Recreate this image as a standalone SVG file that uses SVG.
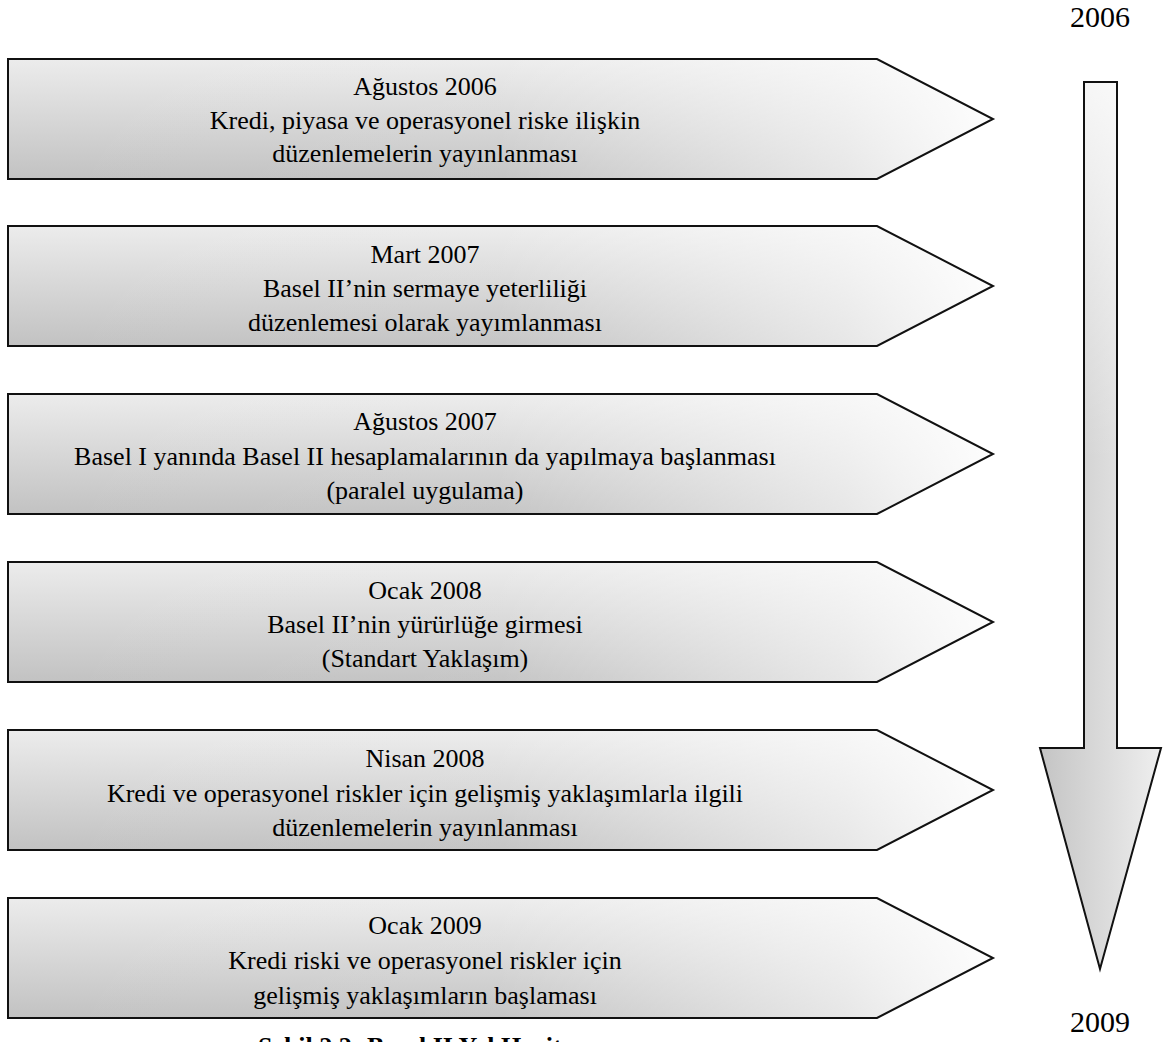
<svg xmlns="http://www.w3.org/2000/svg" width="1166" height="1042" viewBox="0 0 1166 1042">
<style>
.t{font-family:"Liberation Serif","Times New Roman",serif;font-size:26px;fill:#000;text-anchor:middle}
.yr{font-family:"Liberation Serif","Times New Roman",serif;font-size:30px;fill:#000;text-anchor:middle}
.cap{font-family:"Liberation Serif","Times New Roman",serif;font-size:26px;font-weight:bold;fill:#000;text-anchor:middle}
.edge{fill:none;stroke:#111;stroke-width:2;stroke-linejoin:miter}
.base{fill:url(#gv)}
.shine{fill:url(#gh)}
</style>
<defs>
<linearGradient id="gv" x1="0" y1="0" x2="0" y2="1">
<stop offset="0" stop-color="#ececec"/>
<stop offset="1" stop-color="#c2c2c2"/>
</linearGradient>
<linearGradient id="gh" x1="0" y1="0" x2="1" y2="0">
<stop offset="0" stop-color="#fff" stop-opacity="0"/>
<stop offset="0.5" stop-color="#fff" stop-opacity="0.05"/>
<stop offset="0.85" stop-color="#fff" stop-opacity="0.6"/>
<stop offset="1" stop-color="#fff" stop-opacity="0.95"/>
</linearGradient>
<linearGradient id="av" gradientUnits="userSpaceOnUse" x1="1040" y1="0" x2="1161" y2="0">
<stop offset="0" stop-color="#c4c4c4"/>
<stop offset="1" stop-color="#efefef"/>
</linearGradient>
<linearGradient id="avs" gradientUnits="userSpaceOnUse" x1="0" y1="82" x2="0" y2="460">
<stop offset="0" stop-color="#fff" stop-opacity="0.8"/>
<stop offset="1" stop-color="#fff" stop-opacity="0"/>
</linearGradient>
<path id="pent" d="M0,0 L869,0 L985,60 L869,120 L0,120 Z"/>
</defs>

<g id="timeline-arrow">
<path d="M1084,82 L1117,82 L1117,748 L1161,748 L1100,969 L1040,748 L1084,748 Z" fill="url(#av)"/>
<path d="M1084,82 L1117,82 L1117,748 L1161,748 L1100,969 L1040,748 L1084,748 Z" fill="url(#avs)"/>
<path class="edge" d="M1084,82 L1117,82 L1117,748 L1161,748 L1100,969 L1040,748 L1084,748 Z"/>
</g>

<g id="label-2006"><text class="yr" x="1100" y="27">2006</text></g>
<g id="label-2009"><text class="yr" x="1100" y="1032">2009</text></g>

<g id="step1" transform="translate(8,59)">
<use href="#pent" class="base"/><use href="#pent" class="shine"/><use href="#pent" class="edge"/>
<text class="t" x="417" y="36">Ağustos 2006</text>
<text class="t" x="417" y="70">Kredi, piyasa ve operasyonel riske ilişkin</text>
<text class="t" x="417" y="103">düzenlemelerin yayınlanması</text>
</g>

<g id="step2" transform="translate(8,226)">
<use href="#pent" class="base"/><use href="#pent" class="shine"/><use href="#pent" class="edge"/>
<text class="t" x="417" y="37">Mart 2007</text>
<text class="t" x="417" y="71">Basel II’nin sermaye yeterliliği</text>
<text class="t" x="417" y="105">düzenlemesi olarak yayımlanması</text>
</g>

<g id="step3" transform="translate(8,394)">
<use href="#pent" class="base"/><use href="#pent" class="shine"/><use href="#pent" class="edge"/>
<text class="t" x="417" y="36">Ağustos 2007</text>
<text class="t" x="417" y="71">Basel I yanında Basel II hesaplamalarının da yapılmaya başlanması</text>
<text class="t" x="417" y="105">(paralel uygulama)</text>
</g>

<g id="step4" transform="translate(8,562)">
<use href="#pent" class="base"/><use href="#pent" class="shine"/><use href="#pent" class="edge"/>
<text class="t" x="417" y="37">Ocak 2008</text>
<text class="t" x="417" y="71">Basel II’nin yürürlüğe girmesi</text>
<text class="t" x="417" y="105">(Standart Yaklaşım)</text>
</g>

<g id="step5" transform="translate(8,730)">
<use href="#pent" class="base"/><use href="#pent" class="shine"/><use href="#pent" class="edge"/>
<text class="t" x="417" y="37">Nisan 2008</text>
<text class="t" x="417" y="72">Kredi ve operasyonel riskler için gelişmiş yaklaşımlarla ilgili</text>
<text class="t" x="417" y="106">düzenlemelerin yayınlanması</text>
</g>

<g id="step6" transform="translate(8,898)">
<use href="#pent" class="base"/><use href="#pent" class="shine"/><use href="#pent" class="edge"/>
<text class="t" x="417" y="36">Ocak 2009</text>
<text class="t" x="417" y="71">Kredi riski ve operasyonel riskler için</text>
<text class="t" x="417" y="106">gelişmiş yaklaşımların başlaması</text>
</g>

<g id="caption"><text class="cap" x="425" y="1055">Şekil 2.2: Basel II Yol Haritası</text></g>
</svg>
